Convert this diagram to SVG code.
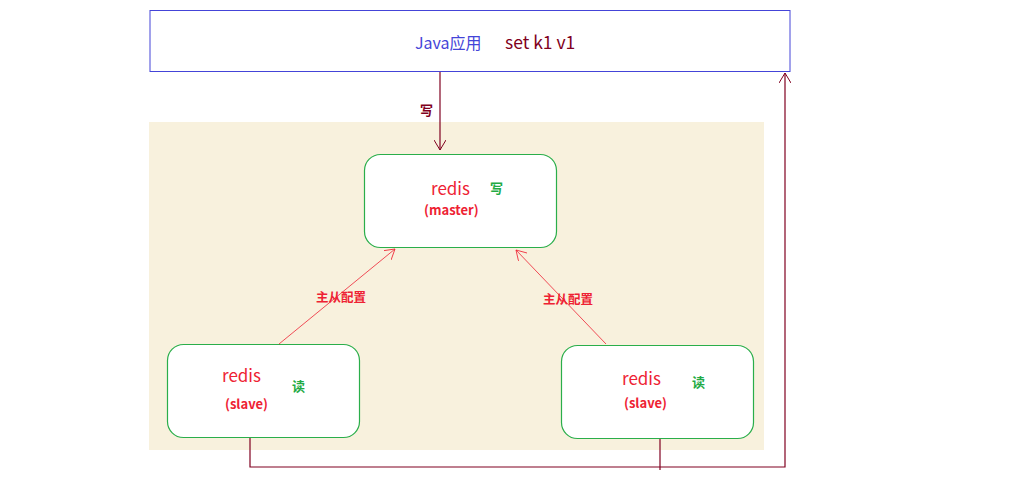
<svg xmlns="http://www.w3.org/2000/svg" width="1033" height="478" viewBox="0 0 1033 478">
<style>
.node{fill:#ffffff;stroke:#2aae4a;stroke-width:1.2}
.red{fill:#ee2233;font-family:"Noto Sans CJK SC","Liberation Sans",sans-serif}
.redis{font-size:17px}
.role{font-size:13px;font-weight:bold}
.grn{fill:#22aa44;font-family:"Noto Sans CJK SC",sans-serif;font-size:13px;font-weight:bold}
.lbl{fill:#ee2233;font-family:"Noto Sans CJK SC",sans-serif;font-size:12.5px;font-weight:bold}
.dark{fill:none;stroke:#800020;stroke-width:1.2}
.thin{fill:none;stroke:#ee2233;stroke-width:0.8}
</style>
<defs>
<marker id="ad" markerWidth="12" markerHeight="12" refX="10" refY="6" orient="auto" markerUnits="userSpaceOnUse"><path d="M0,0 L10,6 L0,12" fill="none" stroke="#800020" stroke-width="1"/></marker>
<marker id="ar" markerWidth="12" markerHeight="12" refX="10" refY="6" orient="auto" markerUnits="userSpaceOnUse"><path d="M0,0 L10,6 L0,12" fill="none" stroke="#ee2233" stroke-width="0.8"/></marker>
</defs>
<rect x="0" y="0" width="1033" height="478" fill="#ffffff"/>
<rect x="149" y="122" width="615" height="328" fill="#f8f1dd"/>
<g id="java">
<rect x="150" y="10.5" width="640" height="61" fill="#ffffff" stroke="#4444d8" stroke-width="1"/>
<text x="415" y="49" font-family="Noto Sans CJK SC,sans-serif" font-size="16" fill="#4444d8">Java应用</text>
<text x="505" y="49" font-family="Noto Sans CJK SC,sans-serif" font-size="17.5" fill="#800020">set k1 v1</text>
</g>
<g id="master">
<rect class="node" x="364.5" y="154.5" width="192" height="93" rx="16"/>
<text class="red redis" x="431" y="195">redis</text>
<text class="red role" x="424" y="215">(master)</text>
<text class="grn" x="490" y="193">写</text>
</g>
<g id="slave1">
<rect class="node" x="167.5" y="344.5" width="192" height="93" rx="16"/>
<text class="red redis" x="222" y="382">redis</text>
<text class="red role" x="225" y="409">(slave)</text>
<text class="grn" x="292" y="391">读</text>
</g>
<g id="slave2">
<rect class="node" x="561.5" y="345.5" width="192" height="93" rx="16"/>
<text class="red redis" x="622" y="385">redis</text>
<text class="red role" x="624" y="408">(slave)</text>
<text class="grn" x="692" y="387">读</text>
</g>
<g id="connectors">
<path class="dark" d="M440,72 L440,150" marker-end="url(#ad)"/>
<text x="420" y="115" font-family="Noto Sans CJK SC,sans-serif" font-size="13" font-weight="bold" fill="#800020">写</text>
<path class="thin" d="M279,344 L395,249" marker-end="url(#ar)"/>
<text class="lbl" x="316" y="302">主从配置</text>
<path class="thin" d="M606,344 L516,250" marker-end="url(#ar)"/>
<text class="lbl" x="543" y="304">主从配置</text>
<path class="dark" d="M250,438 L250,467 L785,467 L785,73" marker-end="url(#ad)"/>
<path class="dark" d="M660,439 L660,470"/>
</g>
</svg>
